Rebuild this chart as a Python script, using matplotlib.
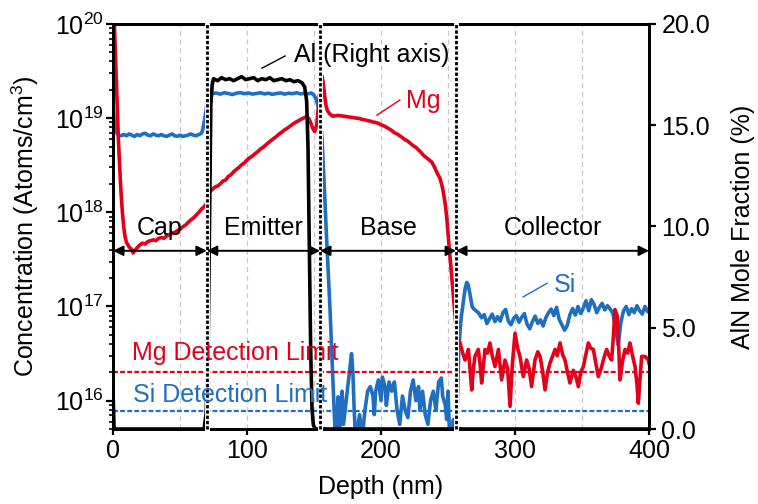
import matplotlib
matplotlib.use("Agg")
import matplotlib.pyplot as plt
from matplotlib.ticker import LogLocator, NullFormatter

plt.rcParams['font.family'] = ['Liberation Sans', 'DejaVu Sans']
plt.rcParams['mathtext.fontset'] = 'custom'
plt.rcParams['mathtext.rm'] = 'Liberation Sans'
plt.rcParams['mathtext.it'] = 'Liberation Sans:italic'
plt.rcParams['mathtext.bf'] = 'Liberation Sans:bold'

# ---------------- data ----------------
# Si (cm^-3)
si_depth = [0, 0.5, 1, 2, 3, 4, 6, 8, 10, 12, 14, 16, 18, 20, 22, 24, 26, 28, 30, 32, 34, 36, 38, 40,
            42, 44, 46, 48, 50, 52, 54, 56, 58, 60, 62, 64, 66, 67, 68, 69, 70, 71, 72,
            74, 77, 80, 83, 86, 89, 92, 95, 98, 101, 104, 107, 110, 113, 116, 119, 122, 125, 128,
            131, 134, 137, 140, 143, 146, 148, 150, 151.5, 153, 154.5, 156, 157, 158, 159, 160,
            161, 162, 163, 164, 165, 166, 167, 168, 169, 170, 171, 172, 174, 176, 178, 179, 180,
            181, 182, 184, 186, 188, 190, 192, 194, 195, 196, 198, 200, 201, 203, 204, 206, 208,
            210, 212, 214, 216, 218, 220, 222, 224, 226, 228, 229, 231, 233, 235, 237, 239, 241,
            243, 245, 246, 248, 249, 250, 251, 252, 253, 254, 255, 256, 257, 258, 259, 260, 261,
            262, 263, 264, 265, 266, 267, 268, 269,
            271, 273, 275, 277, 279, 281, 283, 285, 287, 289, 291, 293, 295, 297, 299, 301, 303,
            305, 307, 309, 311, 313, 315, 317, 319, 321, 323, 325, 327, 329, 331, 333, 335, 337,
            339, 341, 343, 345, 347, 349, 351, 353, 355, 357, 359, 361, 363, 365, 367, 369, 371,
            373, 375, 377, 379, 381, 383, 385, 387, 389, 391, 393, 395, 397, 399, 400]
si_conc = [1.4e19, 1.1e19, 8.5e18, 7.5e18, 6.9e18, 6.6e18, 6.5e18, 6.7e18, 6.5e18, 6.8e18, 6.6e18,
           6.4e18, 6.7e18, 6.5e18, 6.8e18, 6.9e18, 6.6e18, 6.5e18, 6.8e18, 6.6e18, 6.5e18, 6.7e18,
           6.5e18, 6.4e18, 6.6e18, 6.8e18, 6.5e18, 6.4e18, 6.6e18, 6.4e18, 6.5e18, 6.6e18, 6.8e18,
           6.6e18, 6.5e18, 6.7e18, 6.9e18, 7.6e18, 9.0e18, 1.1e19, 1.4e19, 1.65e19, 1.8e19,
           1.82e19, 1.85e19, 1.80e19, 1.86e19, 1.83e19, 1.78e19, 1.84e19, 1.87e19, 1.82e19, 1.85e19,
           1.80e19, 1.83e19, 1.86e19, 1.81e19, 1.84e19, 1.79e19, 1.83e19, 1.85e19, 1.80e19, 1.84e19,
           1.82e19, 1.86e19, 1.81e19, 1.84e19, 1.82e19, 1.85e19, 1.75e19, 1.6e19, 1.35e19, 1.15e19,
           6e18, 3e18, 1.5e18, 7e17, 3.5e17, 1.8e17, 9e16, 4e16, 1.8e16, 8e15, 4e15, 6.3e15, 1.1e16,
           4.5e15, 7.9e15, 1.26e16, 5.6e15, 1.0e16, 1.78e16, 3.16e16, 2.0e16, 7.9e15, 4e15, 4.5e15,
           7.1e15, 4e15, 7.9e15, 1.26e16, 1.41e16, 1.12e16, 7.1e15, 1.26e16, 1.66e16, 1.0e16,
           1.78e16, 1.41e16, 8.9e15, 1.58e16, 1.26e16, 1.58e16, 7.9e15, 5.6e15, 1.12e16, 7.9e15,
           6.6e15, 1.26e16, 1.66e16, 1.0e16, 1.41e16, 7.9e15, 1.26e16, 7.1e15, 5.6e15, 1.0e16,
           1.26e16, 7.9e15, 1.58e16, 1.74e16, 1.12e16, 8.9e15, 6.3e15, 1.26e16, 5e15, 3.5e15, 4e15,
           6.3e15, 4e15, 5e15, 1e16, 3.2e16, 5.6e16, 8e16, 1.0e17, 1.3e17, 1.6e17, 1.8e17, 1.7e17,
           1.45e17, 1.2e17, 1.0e17, 9.5e16,
           9.0e16, 8.5e16, 7.6e16, 8.2e16, 6.6e16, 7.4e16, 8.3e16, 6.9e16, 7.8e16, 7.0e16, 8.6e16,
           9.3e16, 7.0e16, 6.4e16, 7.5e16, 8.0e16, 6.8e16, 7.7e16, 8.4e16, 6.5e16, 5.8e16, 6.9e16,
           7.9e16, 6.6e16, 7.2e16, 6.2e16, 7.6e16, 8.6e16, 9.4e16, 8.0e16, 9.8e16, 7.3e16, 6.4e16,
           5.6e16, 6.3e16, 8.2e16, 9.5e16, 8.1e16, 1.0e17, 8.4e16, 9.6e16, 1.15e17, 9.0e16, 1.18e17,
           1.05e17, 8.6e16, 9.8e16, 1.08e17, 9.2e16, 1.02e17, 9.4e16, 8.5e16, 6.0e16, 3.9e16, 6.8e16,
           9.0e16, 1.0e17, 8.2e16, 9.5e16, 8.6e16, 1.02e17, 9.0e16, 8.3e16, 1.0e17, 8.8e16, 9.4e16]

# Mg (cm^-3)
mg_depth = [0, 1, 2, 3, 4, 5, 6, 7, 8, 9, 10, 12, 14, 15, 16, 18, 20, 22, 24, 26, 28, 30, 32, 34,
            36, 38, 40, 42, 44, 46, 48, 50, 52, 54, 56, 58, 60, 62, 64, 66, 68, 70, 71, 72,
            74, 76, 78, 80, 82, 84, 86, 88, 90, 92, 94, 96, 98, 100, 102, 104, 106, 108, 110, 112,
            114, 116, 118, 120, 122, 124, 126, 128, 130, 132, 134, 136, 138, 140, 142, 144, 146,
            147.5, 149, 150.5, 152, 153, 154, 155, 156, 157, 158, 159, 160, 162, 164, 166, 168,
            170, 172, 174, 176, 178, 180, 182, 184, 186, 188, 190, 192, 194, 196, 198, 200, 202,
            204, 206, 208, 210, 212, 214, 216, 218, 220, 222, 224, 226, 228, 230, 232, 234, 236,
            238, 240, 242, 244, 246, 248, 249, 250, 251, 252, 253, 254, 255, 256, 257,
            259, 261, 262.7, 264, 265.2, 267.7, 269, 270.1, 272.6, 274, 275.1, 277.6, 279.5, 281.3,
            283, 285.1, 287.6, 290, 292.5, 294.5, 296.3, 298, 300, 302, 303.7, 306.2, 308.7, 310.5,
            312.4, 314.9, 317, 318.7, 320.5, 322.4, 324.3, 326.1, 329.9, 331.5, 333.6, 335.5, 337.3,
            339.2, 341, 343.5, 345.4, 347.3, 349, 351, 354.7, 356.5, 358.5, 360.3, 362.2, 364.7,
            366.5, 368.4, 370.2, 372.1, 373.5, 374.6, 376.4, 378.4, 380.2, 382.1, 384, 385.8, 387.7,
            389.6, 391, 392, 393.2, 394.5, 397, 399.5, 400]
mg_conc = [3e20, 1e20, 4e19, 1.5e19, 6e18, 3e18, 1.6e18, 1e18, 7e17, 5.5e17, 4.8e17, 4.3e17, 4.0e17,
           3.7e17, 3.9e17, 4.2e17, 4.5e17, 4.7e17, 4.6e17, 4.9e17, 5.0e17, 5.1e17, 5.0e17, 5.3e17,
           5.4e17, 5.3e17, 5.6e17, 5.8e17, 6.0e17, 6.1e17, 6.4e17, 6.6e17, 7.0e17, 7.3e17, 7.8e17,
           8.3e17, 8.7e17, 9.3e17, 1.0e18, 1.08e18, 1.15e18, 1.25e18, 1.45e18, 1.65e18,
           1.75e18, 1.85e18, 1.9e18, 2.0e18, 2.15e18, 2.2e18, 2.4e18, 2.5e18, 2.7e18, 2.85e18, 3.0e18,
           3.2e18, 3.35e18, 3.6e18, 3.8e18, 3.95e18, 4.2e18, 4.4e18, 4.7e18, 4.9e18, 5.2e18, 5.5e18,
           5.8e18, 6.1e18, 6.4e18, 6.8e18, 7.1e18, 7.5e18, 7.8e18, 8.2e18, 8.6e18, 9.0e18, 9.3e18,
           9.7e18, 1.0e19, 1.03e19, 1.0e19, 9e18, 7.8e18, 7.2e18, 8.5e18, 1.2e19, 1.7e19, 2.3e19,
           2.8e19, 2.3e19, 1.7e19, 1.35e19, 1.2e19, 1.1e19, 1.05e19, 1.06e19, 1.07e19, 1.06e19,
           1.05e19, 1.04e19, 1.03e19, 1.02e19, 1.01e19, 1.0e19, 9.9e18, 9.7e18, 9.6e18, 9.4e18,
           9.3e18, 9.1e18, 9.0e18, 8.8e18, 8.5e18, 8.3e18, 8.0e18, 7.7e18, 7.4e18, 7.0e18, 6.8e18,
           6.5e18, 6.2e18, 5.9e18, 5.7e18, 5.4e18, 5.1e18, 4.9e18, 4.6e18, 4.3e18, 4.0e18, 3.8e18,
           3.6e18, 3.4e18, 3.0e18, 2.6e18, 2.3e18, 1.8e18, 1.2e18, 9e17, 6e17, 4e17, 2.8e17, 1.9e17,
           1.3e17, 8.5e16, 6e16, 4.6e16,
           4.1e16, 3.2e16, 2.7e16, 3.0e16, 3.5e16, 1.3e16, 2.2e16, 2.95e16, 3.5e16, 2.4e16, 1.54e16,
           3.5e16, 3.2e16, 4.1e16, 3.0e16, 2.3e16, 3.5e16, 1.66e16, 2.7e16, 2.2e16, 8.7e15, 2.4e16,
           5.2e16, 3.6e16, 2.95e16, 1.8e16, 2.7e16, 2.2e16, 1.41e16, 2.7e16, 3.3e16, 2.95e16, 2.1e16,
           1.3e16, 2.0e16, 2.5e16, 3.5e16, 3.0e16, 4.1e16, 3.1e16, 2.7e16, 2.0e16, 1.54e16, 2.1e16,
           1.8e16, 1.41e16, 2.0e16, 2.3e16, 4.1e16, 3.6e16, 3.5e16, 2.5e16, 1.8e16, 2.3e16, 2.9e16,
           3.5e16, 3.0e16, 2.7e16, 5.0e16, 9.3e16, 7.8e16, 1.66e16, 2.6e16, 3.5e16, 3.2e16, 4.1e16,
           3.0e16, 2.3e16, 1.5e16, 9.4e15, 1.6e16, 2.95e16, 2.95e16, 2.7e16, 2.5e16]

# Al mole fraction (%), right axis
al_depth = [0, 0.8, 68, 69.5, 71, 72, 73, 74, 75, 78, 81, 84, 87, 90, 93, 96, 99, 102, 105, 108,
            111, 114, 117, 120, 123, 126, 129, 132, 135, 138, 141, 143, 144.5, 145.5, 146.5,
            147.5, 148.5, 149.5, 151, 400]
al_frac = [1.9, 0.0, 0.0, 0.8, 4.0, 10.0, 16.0, 17.0, 17.3, 17.2, 17.35, 17.25, 17.3, 17.2, 17.3,
           17.4, 17.25, 17.3, 17.35, 17.2, 17.3, 17.25, 17.35, 17.2, 17.25, 17.3, 17.2, 17.25, 17.15,
           17.2, 17.1, 16.9, 16.2, 14.0, 9.0, 4.0, 1.0, 0.2, 0.0, 0.0]

mg_detection_limit = 2.0e16
si_detection_limit = 7.8e15

layer_bounds = [0, 70, 154.5, 256, 400]
layer_names = ["Cap", "Emitter", "Base", "Collector"]

x_ticks = [0, 100, 200, 300, 400]
y_ticks = [1e16, 1e17, 1e18, 1e19, 1e20]
y_ticklabels = [r"$\mathregular{10^{16}}$", r"$\mathregular{10^{17}}$", r"$\mathregular{10^{18}}$",
                r"$\mathregular{10^{19}}$", r"$\mathregular{10^{20}}$"]
y2_ticks = [0, 5, 10, 15, 20]
y2_ticklabels = ["0.0", "5.0", "10.0", "15.0", "20.0"]
grid_x = [50, 100, 150, 200, 250, 300, 350]

# ---------------- style ----------------
BLUE = "#1F6EC0"
RED = "#E3001B"
FS = 18

fig = plt.figure(figsize=(7.58, 5.04), dpi=100)
ax = fig.add_axes([0.1491, 0.1488, 0.7071, 0.8036])
ax2 = ax.twinx()

for g in grid_x:
    ax.axvline(g, color="#c8c8c8", lw=0.9, ls=(0, (4, 3)), zorder=0)

ax.plot(si_depth, si_conc, color=BLUE, lw=2.6, zorder=2, solid_joinstyle="round")
ax.plot(mg_depth, mg_conc, color=RED, lw=2.6, zorder=3, solid_joinstyle="round")
ax.axhline(mg_detection_limit, color=RED, lw=1.6, ls=(0, (2.2, 1.0)), zorder=4)
ax.axhline(si_detection_limit, color=BLUE, lw=1.6, ls=(0, (2.2, 1.0)), zorder=4)

ax.set_yscale("log")
ax.set_xlim(0, 400)
ax.set_ylim(5.0e15, 1e20)
ax.set_xticks(x_ticks)
ax.set_xticklabels([str(v) for v in x_ticks])
ax.set_yticks(y_ticks)
ax.set_yticklabels(y_ticklabels)
ax.yaxis.set_minor_locator(LogLocator(base=10, subs=[2, 3, 4, 5, 6, 7, 8, 9], numticks=20))
ax.yaxis.set_minor_formatter(NullFormatter())
ax.tick_params(axis="y", which="major", direction="out", length=5, width=1.6, labelsize=FS, pad=2)
ax.tick_params(axis="y", which="minor", direction="out", length=3, width=1.2)
ax.tick_params(axis="x", which="major", direction="out", length=4, width=1.6, labelsize=FS, pad=3)

ax2.plot(al_depth, al_frac, color="black", lw=2.6, zorder=2, solid_joinstyle="round")
ax2.set_ylim(0, 20)
ax2.set_yticks(y2_ticks)
ax2.set_yticklabels(y2_ticklabels)
ax2.tick_params(axis="y", direction="out", length=5, width=1.6, labelsize=FS, pad=4)

for a in (ax, ax2):
    for s in a.spines.values():
        s.set_linewidth(2.0)
        s.set_color("black")

# layer boundaries
trans = ax2.get_xaxis_transform()
for b in layer_bounds[1:-1]:
    ax2.plot([b, b], [0, 1], transform=trans, color="white", lw=3.5, zorder=5, clip_on=False)
    ax2.plot([b, b], [0, 1], transform=trans, color="black", lw=2.0, ls=(0, (1.2, 0.7)),
             zorder=6, clip_on=False)

# layer arrows and names
arrow_y = 0.44
for i, name in enumerate(layer_names):
    a0, a1 = layer_bounds[i], layer_bounds[i + 1]
    ax2.annotate("", xy=(a1, arrow_y), xytext=(a0, arrow_y), xycoords=trans, textcoords=trans,
                 arrowprops=dict(arrowstyle="<|-|>,head_length=0.6,head_width=0.3", color="black",
                                 lw=1.4, shrinkA=0, shrinkB=0), zorder=7)
    ax2.text((a0 + a1) / 2, 0.479, name, transform=trans, ha="center", va="baseline",
             fontsize=FS, zorder=7)

# annotations
ax2.text(0.483, 0.906, "Al (Right axis)", transform=ax2.transAxes, ha="center", va="baseline",
         fontsize=FS, color="black", zorder=7)
ax2.plot([0.278, 0.321], [0.891, 0.921], transform=ax2.transAxes, color="black", lw=1.0, zorder=7)
ax2.text(0.579, 0.793, "Mg", transform=ax2.transAxes, ha="center", va="baseline",
         fontsize=FS, color=RED, zorder=7)
ax2.plot([0.4925, 0.535], [0.775, 0.812], transform=ax2.transAxes, color=RED, lw=1.0, zorder=7)
ax2.text(0.843, 0.338, "Si", transform=ax2.transAxes, ha="center", va="baseline",
         fontsize=FS, color=BLUE, zorder=7)
ax2.plot([0.765, 0.810], [0.326, 0.360], transform=ax2.transAxes, color=BLUE, lw=1.0, zorder=7)
ax2.text(0.035, 0.170, "Mg Detection Limit", transform=ax2.transAxes, ha="left", va="baseline",
         fontsize=FS, color=RED, zorder=7)
ax2.text(0.037, 0.067, "Si Detection Limit", transform=ax2.transAxes, ha="left", va="baseline",
         fontsize=FS, color=BLUE, zorder=7)

# axis labels
ax.set_ylabel(r"Concentration (Atoms/cm$^\mathregular{3}$)", fontsize=FS, va="center")
ax.yaxis.set_label_coords(-0.164, 0.5)
ax2.set_ylabel("AlN Mole Fraction (%)", fontsize=FS, va="center")
ax2.yaxis.set_label_coords(1.175, 0.5)
ax.set_xlabel("Depth (nm)", fontsize=FS, va="center")
ax.xaxis.set_label_coords(0.5, -0.143)

fig.savefig("out.png", dpi=100)
